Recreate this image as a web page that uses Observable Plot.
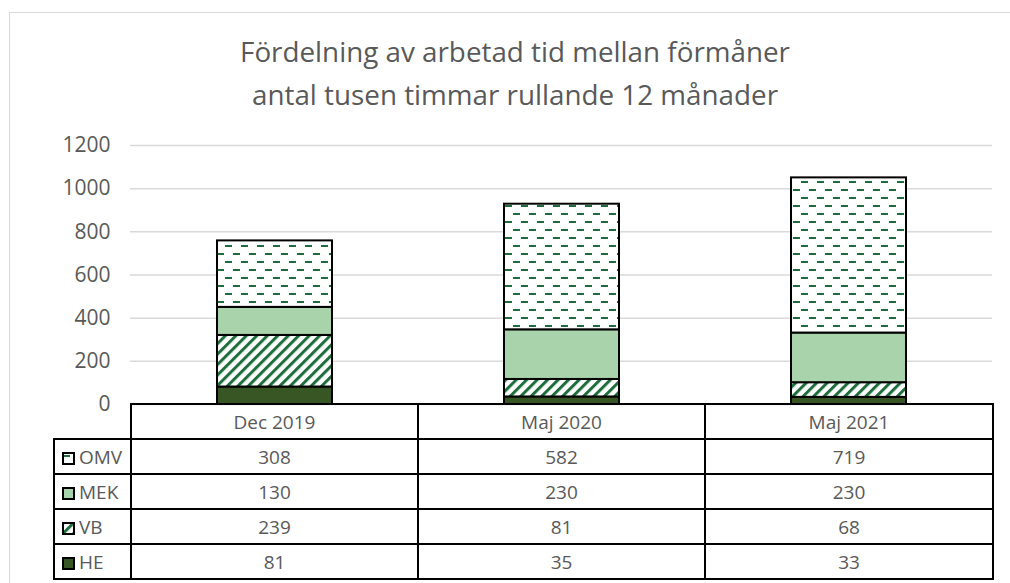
<!DOCTYPE html>
<html><head><meta charset="utf-8">
<script src="https://cdn.jsdelivr.net/npm/d3@7"></script>
<script src="https://cdn.jsdelivr.net/npm/@observablehq/plot@0.6"></script>
<style>
html,body{margin:0;padding:0;background:#fff;}
body{width:1010px;height:583px;overflow:hidden;position:relative;font-family:"Open Sans",sans-serif;}
#frame{position:absolute;left:9px;top:12px;width:1010px;height:600px;border:1.5px solid #d9d9d9;box-sizing:border-box;}
#title{position:absolute;left:0;width:1030px;top:30px;text-align:center;color:#595959;font-size:27.8px;line-height:43px;}
#chart{position:absolute;left:0;top:130px;}
#tbl{position:absolute;left:53px;top:403px;border-collapse:collapse;table-layout:fixed;background:transparent;}
#tbl td{border:2px solid #000;text-align:center;color:#595959;font-size:19px;padding:0;height:33px;line-height:20px;}
#tbl td.blank{border-top:none;border-left:none;border-bottom:2px solid #000;}
#tbl td.lg{text-align:left;padding-left:7px;white-space:nowrap;}
#tbl td.lg svg{vertical-align:-1px;margin-right:4px;}
</style>
</head><body>
<div id="frame"></div>
<div id="title">Fördelning av arbetad tid mellan förmåner<br>antal tusen timmar rullande 12 månader</div>
<div id="chart"></div>
<table id="tbl"></table>
<script>
const categories = ["Dec 2019", "Maj 2020", "Maj 2021"];
const series = ["HE", "VB", "MEK", "OMV"];
const HE = [81, 35, 33];
const VB = [239, 81, 68];
const MEK = [130, 230, 230];
const OMV = [308, 582, 719];
const yTicks = [0, 200, 400, 600, 800, 1000, 1200];
const tableRows = ["OMV", "MEK", "VB", "HE"];
const fills = ["#375623", "url(#pat-vb)", "#a8d3ab", "url(#pat-omv)"];

const values = {HE, VB, MEK, OMV};
const data = series.flatMap(s => categories.map((c, i) => ({category: c, series: s, value: values[s][i]})));

function defsMark() {
  const defs = d3.create("svg:defs");
  const vb = defs.append("pattern").attr("id", "pat-vb").attr("patternUnits", "userSpaceOnUse")
    .attr("width", 7.4).attr("height", 7.4).attr("patternTransform", "rotate(45)");
  vb.append("rect").attr("width", 7.4).attr("height", 7.4).attr("fill", "#fff");
  vb.append("rect").attr("width", 3).attr("height", 7.4).attr("fill", "#1d6e3c");
  const om = defs.append("pattern").attr("id", "pat-omv").attr("patternUnits", "userSpaceOnUse")
    .attr("width", 16).attr("height", 16);
  om.append("rect").attr("width", 16).attr("height", 16).attr("fill", "#fff");
  om.append("rect").attr("x", 1).attr("y", 3).attr("width", 7).attr("height", 2).attr("fill", "#1d6e3c");
  om.append("rect").attr("x", 9).attr("y", 11).attr("width", 7).attr("height", 2).attr("fill", "#1d6e3c");
  return defs.node();
}

const chart = Plot.plot({
  width: 1010, height: 275,
  marginLeft: 130, marginRight: 18, marginTop: 15, marginBottom: 1,
  style: {fontFamily: '"Open Sans", sans-serif', color: "#595959", background: "transparent", overflow: "visible"},
  x: {domain: categories, paddingInner: 0.6, paddingOuter: 0.3, axis: null},
  y: {domain: [0, 1200], axis: null},
  color: {type: "ordinal", domain: series, range: fills},
  marks: [
    defsMark,
    Plot.gridY({ticks: yTicks, stroke: "#d9d9d9", strokeOpacity: 1, strokeWidth: 1.5}),
    Plot.axisY({ticks: yTicks, tickSize: 0, tickPadding: 20, fontSize: 21, fill: "#595959", label: null, tickFormat: d => String(d)}),
    Plot.barY(data, {x: "category", y: "value", fill: "series", stroke: "#000", strokeWidth: 2, order: null})
  ]
});
document.getElementById("chart").appendChild(chart);

const colorOf = s => fills[series.indexOf(s)];
const tbl = d3.select("#tbl");
const cg = tbl.append("colgroup");
cg.append("col").style("width", "77px");
categories.forEach((c, i) => cg.append("col").style("width", i === 2 ? "288px" : "287px"));
const hdr = tbl.append("tr");
hdr.append("td").attr("class", "blank");
categories.forEach(c => hdr.append("td").text(c));
tableRows.forEach(s => {
  const tr = tbl.append("tr");
  const lg = tr.append("td").attr("class", "lg");
  const sw = lg.append("svg").attr("width", 13).attr("height", 13);
  sw.append("rect").attr("x", 1).attr("y", 1).attr("width", 11).attr("height", 11)
    .attr("fill", colorOf(s)).attr("stroke", "#000").attr("stroke-width", 2);
  lg.append("span").text(s);
  const v = values[s];
  categories.forEach((c, i) => tr.append("td").text(v[i]));
});
</script>
</body></html>
